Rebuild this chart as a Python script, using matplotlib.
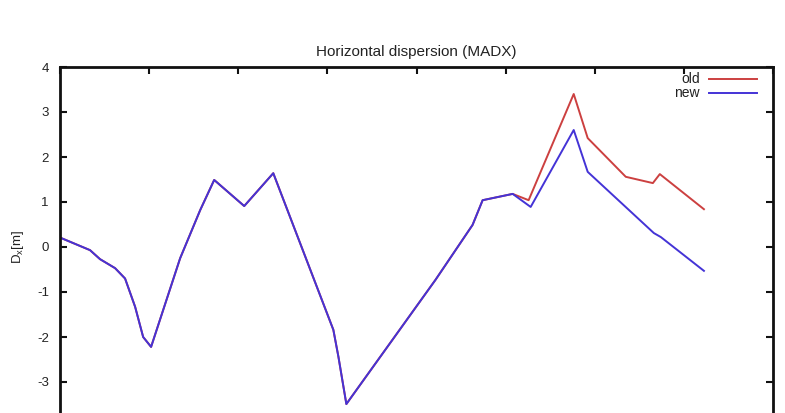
import matplotlib
matplotlib.use("Agg")
import matplotlib.pyplot as plt

plt.rcParams['font.family'] = ['Liberation Sans', 'DejaVu Sans']

# Shared part of the orbit (both optics identical here)
s_common = [0, 33.7, 44.9, 61.8, 73, 84.3, 93.3, 102.2, 134.8, 157.3, 173,
            206.7, 239.3, 306.7, 312.4, 321.3, 421.3, 462.9, 474.2, 507.9]
dx_common = [0.21, -0.07, -0.27, -0.47, -0.70, -1.33, -2.0, -2.22, -0.25, 0.82, 1.49,
             0.91, 1.64, -1.84, -2.44, -3.49, -0.73, 0.49, 1.04, 1.18]

# Diverging part
s_old_tail = [525.8, 576.4, 592.1, 634.8, 665.2, 673.0, 722.5]
dx_old_tail = [1.04, 3.40, 2.42, 1.56, 1.42, 1.62, 0.84]
s_new_tail = [528.1, 576.4, 592.1, 666.3, 674.2, 722.5]
dx_new_tail = [0.89, 2.60, 1.67, 0.31, 0.22, -0.53]

s_old = s_common + s_old_tail
dx_old = dx_common + dx_old_tail
s_new = s_common + s_new_tail
dx_new = dx_common + dx_new_tail

yticks = [-4, -3, -2, -1, 0, 1, 2, 3, 4]
# the -4 label lies below the visible crop of the figure
ytick_labels = ['', '-3', '-2', '-1', '0', '1', '2', '3', '4']
xticks = [0, 100, 200, 300, 400, 500, 600, 700, 800]

fig = plt.figure(figsize=(7.85, 4.13), dpi=100)
ax = fig.add_axes([60/785, 1 - 427/413, (773-60)/785, (427-67)/413])

ax.plot(s_old, dx_old, color='#cc4040', lw=1.4, label='old')
ax.plot(s_new, dx_new, color='#4433d6', lw=1.4, label='new')

ax.set_xlim(0, 800)
ax.set_ylim(-4, 4)
ax.set_xticks(xticks)
ax.set_yticks(yticks)
ax.set_yticklabels(ytick_labels)
ax.tick_params(direction='in', length=5, width=1.5, top=True, right=True,
               labelsize=9.5, colors='#111111', labelcolor='#222222', pad=8)
ax.tick_params(axis='x', labelbottom=False)
for sp in ax.spines.values():
    sp.set_linewidth(2)
    sp.set_color('#111111')

ax.set_title('Horizontal dispersion (MADX)', fontsize=11, color='#222222', pad=8)
ax.set_ylabel(r'D$_\mathregular{x}$[m]', fontsize=9.5, color='#222222', labelpad=8)

leg = ax.legend(loc='upper right', frameon=False, markerfirst=False,
                handlelength=3.4, fontsize=10, labelspacing=0.0,
                borderaxespad=0, borderpad=0, handletextpad=0.7,
                bbox_to_anchor=(0.977, 0.985))
for t in leg.get_texts():
    t.set_color('#222222')

fig.savefig('out.png', dpi=100)
